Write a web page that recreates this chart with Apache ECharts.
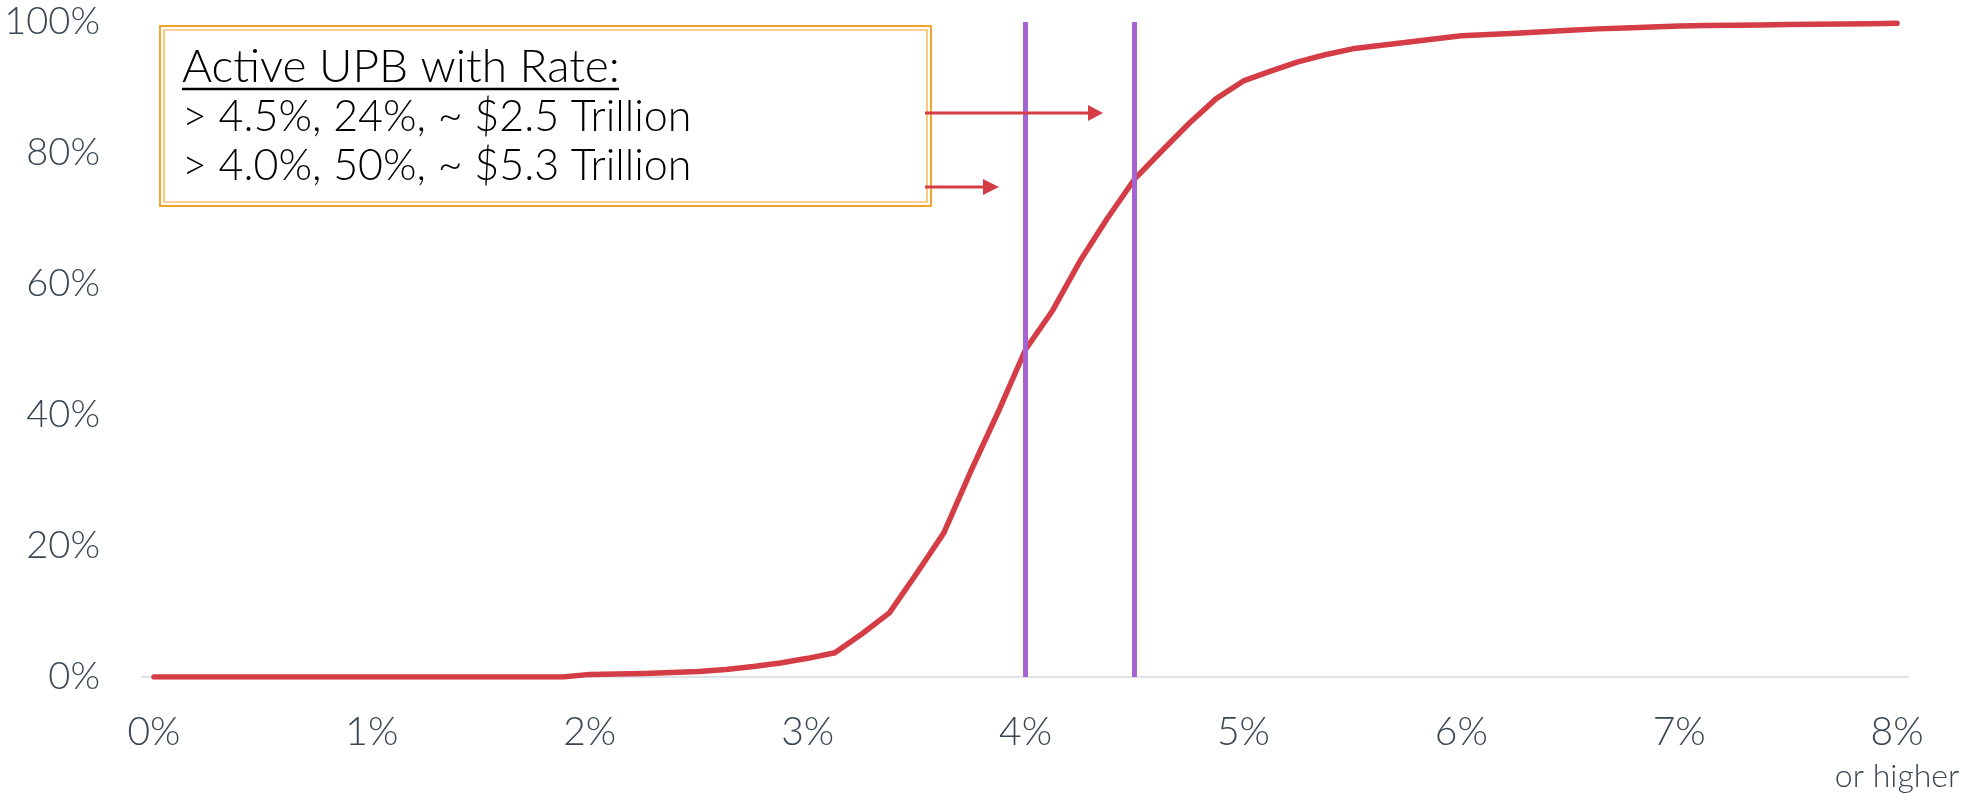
<!DOCTYPE html>
<html>
<head>
<meta charset="utf-8">
<script src="https://cdn.jsdelivr.net/npm/echarts@6/dist/echarts.min.js"></script>
<style>
  html, body { margin: 0; padding: 0; background: #fff; }
  #chart { width: 1964px; height: 794px; }
</style>
</head>
<body>
<div id="chart"></div>
<script>
// note rate (%) at each point of the curve
const rateSteps = [
    0, 0.125, 0.25, 0.375, 0.5, 0.625, 0.75, 0.875,
    1, 1.125, 1.25, 1.375, 1.5, 1.625, 1.75, 1.875,
    2, 2.125, 2.25, 2.375, 2.5, 2.625, 2.75, 2.875,
    3, 3.125, 3.25, 3.375, 3.5, 3.625, 3.75, 3.875,
    4, 4.125, 4.25, 4.375, 4.5, 4.625, 4.75, 4.875,
    5, 5.125, 5.25, 5.375, 5.5, 5.625, 5.75, 5.875,
    6, 6.125, 6.25, 6.375, 6.5, 6.625, 6.75, 6.875,
    7, 7.125, 7.25, 7.375, 7.5, 7.625, 7.75, 7.875,
    8
];
// cumulative share of active UPB (%)
const cumulativeShare = [
    0, 0, 0, 0, 0, 0, 0, 0,
    0, 0, 0, 0, 0, 0, 0, 0,
    0.4, 0.45, 0.55, 0.7, 0.85, 1.15, 1.6, 2.15,
    2.85, 3.7, 6.6, 9.8, 15.8, 22, 31.5, 40.5,
    50, 56, 63.5, 70, 76, 80.3, 84.5, 88.3,
    91, 92.5, 93.9, 95, 95.9, 96.4, 96.9, 97.4,
    97.9, 98.1, 98.3, 98.5, 98.75, 98.95, 99.1, 99.25,
    99.4, 99.45, 99.5, 99.55, 99.6, 99.65, 99.7, 99.75,
    99.8
];
const xTicks = [0, 1, 2, 3, 4, 5, 6, 7, 8];
const yTicks = [0, 20, 40, 60, 80, 100];
const markerRates = [4, 4.5];
const noteLines = [
    'Active UPB with Rate:',
    '> 4.5%, 24%, ~ $2.5 Trillion',
    '> 4.0%, 50%, ~ $5.3 Trillion'
];

const font = 'Lato, "Open Sans", sans-serif';
const labelColor = '#3a4651';
const red = '#d43d45';
const purple = '#a664d2';
const orange = '#f5a42a';

let myChart = echarts.init(document.getElementById('chart'));

let option = {
    animation: false,
    backgroundColor: '#fff',
    grid: { left: 142, right: 56, top: 22, bottom: 117, outerBoundsMode: 'none', containLabel: false },
    xAxis: {
        type: 'value',
        min: -0.055,
        max: 8.05,
        splitLine: { show: false },
        axisTick: { show: false },
        axisLine: { show: true, lineStyle: { color: '#dde2e7', width: 2 } },
        axisLabel: {
            customValues: xTicks,
            margin: 36,
            color: labelColor,
            fontFamily: font,
            fontSize: 39,
            fontWeight: 300,
            verticalAlign: 'top',
            lineHeight: 39,
            formatter: v => v === 8 ? '{a|8%}\n{b|or higher}' : v + '%',
            rich: {
                a: { fontSize: 39, lineHeight: 39, color: labelColor, fontFamily: font, fontWeight: 300 },
                b: { fontSize: 32, lineHeight: 50, color: labelColor, fontFamily: font, fontWeight: 300 }
            }
        }
    },
    yAxis: {
        type: 'value',
        min: 0,
        max: 100,
        interval: 20,
        splitLine: { show: false },
        axisLine: { show: false },
        axisTick: { show: false },
        axisLabel: {
            customValues: yTicks,
            margin: 42,
            color: labelColor,
            fontFamily: font,
            fontSize: 38,
            fontWeight: 300,
            formatter: '{value}%'
        }
    },
    series: [{
        type: 'line',
        data: rateSteps.map((r, i) => [r, cumulativeShare[i]]),
        symbol: 'none',
        z: 3,
        lineStyle: { color: red, width: 5.5, cap: 'round', join: 'round' },
        markLine: {
            silent: true,
            symbol: 'none',
            label: { show: false },
            lineStyle: { color: purple, width: 5, type: 'solid' },
            data: markerRates.map(r => ({ xAxis: r }))
        }
    }],
    graphic: [
        // annotation box, double orange border
        { type: 'rect', shape: { x: 160, y: 26, width: 771, height: 180 },
          style: { fill: '#fff', stroke: orange, lineWidth: 2 }, z: 10 },
        { type: 'rect', shape: { x: 164, y: 30, width: 763, height: 172 },
          style: { fill: 'none', stroke: orange, lineWidth: 1.2 }, z: 10 },
        { type: 'text', left: 182, top: 44, z: 11,
          style: { text: noteLines[0], fill: '#000', font: '300 46px ' + font } },
        { type: 'line', shape: { x1: 182, y1: 89, x2: 619, y2: 89 },
          style: { stroke: '#000', lineWidth: 2.5 }, z: 11 },
        { type: 'text', left: 182, top: 96, z: 11,
          style: { text: noteLines[1], fill: '#000', font: '300 43px ' + font } },
        { type: 'text', left: 182, top: 145, z: 11,
          style: { text: noteLines[2], fill: '#000', font: '300 43px ' + font } },
        // arrows
        { type: 'line', shape: { x1: 925, y1: 113, x2: 1090, y2: 113 },
          style: { stroke: red, lineWidth: 3 }, z: 11 },
        { type: 'polygon', shape: { points: [[1088, 105], [1103, 113], [1088, 121]] },
          style: { fill: red }, z: 11 },
        { type: 'line', shape: { x1: 925, y1: 187, x2: 986, y2: 187 },
          style: { stroke: red, lineWidth: 3 }, z: 11 },
        { type: 'polygon', shape: { points: [[983, 179], [999, 187], [983, 195]] },
          style: { fill: red }, z: 11 }
    ]
};
myChart.setOption(option);
</script>
</body>
</html>
